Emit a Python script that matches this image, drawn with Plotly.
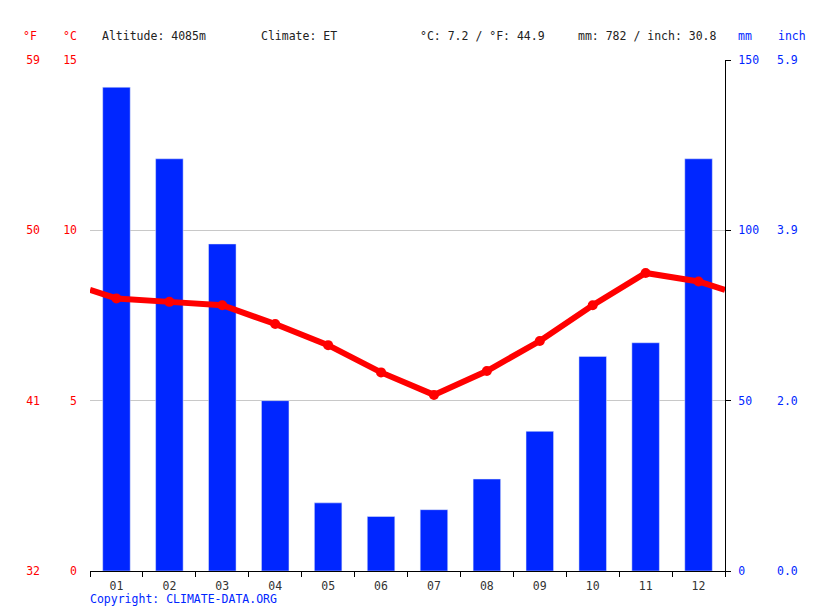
import plotly.graph_objects as go

months = ["01", "02", "03", "04", "05", "06", "07", "08", "09", "10", "11", "12"]
precip_mm = [142, 121, 96, 50, 20, 16, 18, 27, 41, 63, 67, 121]
temp_c = [8.0, 7.9, 7.8, 7.25, 6.63, 5.83, 5.17, 5.87, 6.75, 7.8, 8.75, 8.5]
c_ticks = [0, 5, 10, 15]
mm_ticks = [0, 50, 100, 150]
altitude = "4085m"
climate = "ET"

f_ticks = [str(round(c * 9 / 5 + 32)) for c in c_ticks]
inch_ticks = ["%.1f" % (m / 25.4) for m in mm_ticks]
mean_c = sum(temp_c) / len(temp_c)
mean_f = mean_c * 9 / 5 + 32
tot_mm = sum(precip_mm)
tot_in = tot_mm / 25.4

RED = "#ff0000"
BLUE = "#0026ff"
FONT = "DejaVu Sans Mono"
W, H = 815, 611
ML, MR, MT, MB = 20, 20, 60, 40
PW = W - ML - MR
x0 = (90 - ML) / PW
x1 = (725 - ML) / PW

idx = list(range(len(months)))
edge = (temp_c[0] + temp_c[-1]) / 2
line_x = [-0.5] + idx + [len(months) - 0.5]
line_y = [edge] + temp_c + [edge]

fig = go.Figure()
fig.add_trace(go.Bar(x=idx, y=precip_mm, marker_color=BLUE, width=0.52,
                     yaxis="y", xaxis="x", hoverinfo="y"))
fig.add_trace(go.Scatter(x=line_x, y=line_y, mode="lines", xaxis="x", yaxis="y2",
                         line=dict(color=RED, width=6), hoverinfo="skip"))
fig.add_trace(go.Scatter(x=idx, y=temp_c, mode="markers", xaxis="x", yaxis="y2",
                         marker=dict(color=RED, size=10), hoverinfo="y"))
# companion traces so the °F and inch scales are drawn
fig.add_trace(go.Scatter(x=idx, y=temp_c, yaxis="y3", xaxis="x", mode="lines",
                         line=dict(width=0), opacity=0, hoverinfo="skip"))
fig.add_trace(go.Scatter(x=idx, y=precip_mm, yaxis="y4", xaxis="x", mode="lines",
                         line=dict(width=0), opacity=0, hoverinfo="skip"))

fig.update_layout(
    width=W, height=H, margin=dict(l=ML, r=MR, t=MT, b=MB),
    plot_bgcolor="white", paper_bgcolor="white", showlegend=False,
    font=dict(family=FONT, size=11.5, color="#222"),
    xaxis=dict(domain=[x0, x1], range=[-0.5, len(months) - 0.5], tickvals=idx, ticktext=months,
               ticks="", showline=True, linecolor="black", linewidth=1, showgrid=False,
               zeroline=False, tickfont=dict(size=11.5, color="#333"), ticklabelstandoff=4,
               minor=dict(ticks="outside", tick0=-0.5, dtick=1, ticklen=5, tickcolor="black",
                          showgrid=False)),
    yaxis=dict(range=[0, 150], tickvals=mm_ticks, side="right", anchor="x",
               showgrid=True, gridcolor="#c8c8c8", zeroline=False, showline=True,
               linecolor="black", linewidth=1, ticks="outside", ticklen=5, tickcolor="black",
               tickfont=dict(color=BLUE), ticklabelstandoff=5),
    yaxis2=dict(range=[0, 15], tickvals=c_ticks, overlaying="y", side="left", anchor="x",
                showgrid=False, zeroline=False, showline=False, ticks="",
                tickfont=dict(color=RED), ticklabelstandoff=12),
    yaxis3=dict(range=[0, 15], tickvals=c_ticks, ticktext=f_ticks, overlaying="y", anchor="free",
                position=(40 - ML) / PW, side="left", showgrid=False, zeroline=False,
                showline=False, ticks="", tickfont=dict(color=RED)),
    yaxis4=dict(range=[0, 150], tickvals=mm_ticks, ticktext=inch_ticks, overlaying="y",
                anchor="free", position=(776 - ML) / PW, side="right", showgrid=False,
                zeroline=False, showline=False, ticks="", tickfont=dict(color=BLUE)),
)

def px(x):
    return (x - ML) / PW

def py(y):
    return (H - MB - y) / (H - MT - MB)

hdr_y = py(36)
ann = [
    dict(text="°F", x=px(30), xanchor="center", font=dict(color=RED)),
    dict(text="°C", x=px(70), xanchor="center", font=dict(color=RED)),
    dict(text="Altitude: " + altitude, x=px(100), xanchor="left"),
    dict(text="Climate: " + climate, x=px(259), xanchor="left"),
    dict(text="°C: %.1f / °F: %.1f" % (mean_c, mean_f), x=px(418), xanchor="left"),
    dict(text="mm: %d / inch: %.1f" % (tot_mm, tot_in), x=px(576), xanchor="left"),
    dict(text="mm", x=px(745), xanchor="center", font=dict(color=BLUE)),
    dict(text="inch", x=px(792), xanchor="center", font=dict(color=BLUE)),
]
for a in ann:
    a.update(xref="paper", yref="paper", y=hdr_y, yanchor="middle", showarrow=False)
    fig.add_annotation(**a)
fig.add_annotation(text="Copyright: CLIMATE-DATA.ORG", xref="paper", yref="paper",
                   x=px(88), y=py(599), xanchor="left", yanchor="middle", showarrow=False,
                   font=dict(color=BLUE))

fig.write_html("out.html", config={"displayModeBar": False},
               post_script="document.body.style.margin='0';")
